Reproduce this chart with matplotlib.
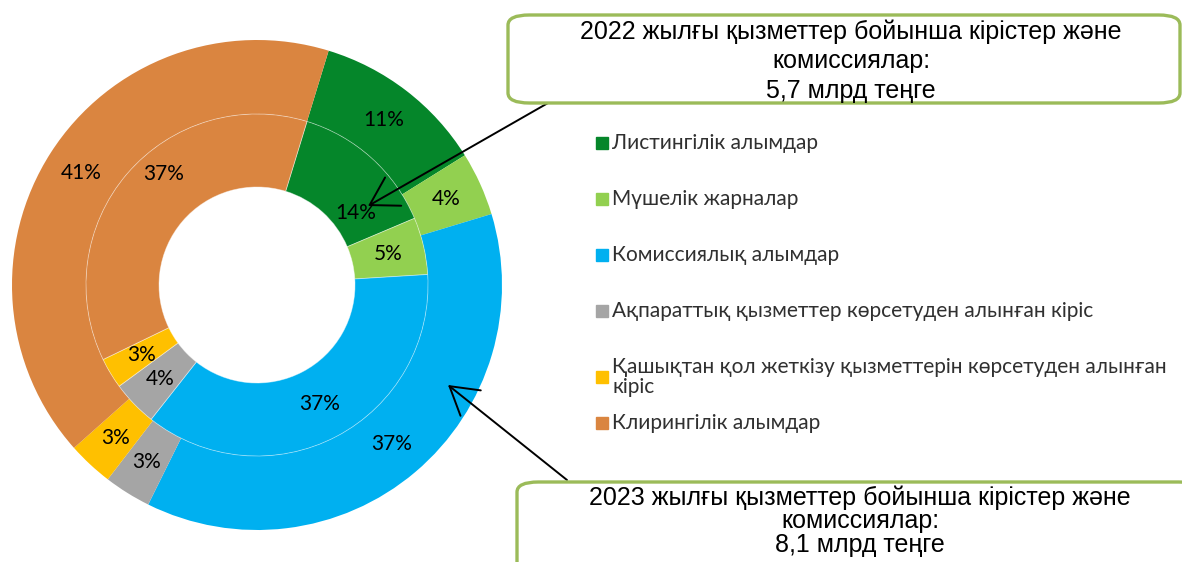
import numpy as np
import matplotlib
matplotlib.use("Agg")
import matplotlib.pyplot as plt
from matplotlib.patches import FancyBboxPatch, FancyArrowPatch, Rectangle

# categories (legend order = slice order)
categories = [
    "Листингілік алымдар",
    "Мүшелік жарналар",
    "Комиссиялық алымдар",
    "Ақпараттық қызметтер көрсетуден алынған кіріс",
    "Қашықтан қол жеткізу қызметтерін көрсетуден алынған\nкіріс",
    "Клирингілік алымдар",
]
# shares, %
share_2023 = [11.4, 4.2, 37.0, 3.1, 3.0, 41.3]   # outer ring
share_2022 = [13.9, 5.4, 36.6, 4.3, 2.9, 36.9]   # inner ring
colors = ["#05862a", "#92d050", "#00b0f0", "#a5a5a5", "#ffc000", "#da8540"]

title_2022 = "2022 жылғы қызметтер бойынша кірістер және\nкомиссиялар:\n5,7 млрд теңге"
title_2023 = "2023 жылғы қызметтер бойынша кірістер және\nкомиссиялар:\n8,1 млрд теңге"

W, H = 1182, 562
fig = plt.figure(figsize=(W / 100, H / 100), dpi=100)

def fx(px):
    return px / W

def fy(py):
    return 1 - py / H

pct_font = dict(family=["Lato", "DejaVu Sans"], size=15, color="black")
leg_font = dict(family=["Lato", "DejaVu Sans"], size=15, color="#303030")
box_font = dict(family=["Liberation Sans Narrow", "Liberation Sans", "DejaVu Sans"], size=18, color="black")

# donut
cx, cy, R = 257, 285, 245
ax = fig.add_axes([fx(cx - R), fy(cy + R), 2 * R / W, 2 * R / H])

r_mid, r_hole = 0.698, 0.40
start = 73

w_out, _, t_out = ax.pie(share_2023, radius=1, colors=colors, startangle=start,
                         counterclock=False, autopct="%.0f%%", pctdistance=0.85,
                         wedgeprops=dict(width=1 - r_mid, linewidth=0),
                         textprops=pct_font)
w_in, _, t_in = ax.pie(share_2022, radius=r_mid, colors=colors, startangle=start,
                       counterclock=False, autopct="%.0f%%", pctdistance=0.55 / r_mid,
                       wedgeprops=dict(width=r_mid - r_hole, linewidth=0.6,
                                       edgecolor=(1, 1, 1, 0.45)),
                       textprops=pct_font)
ax.set_xlim(-1, 1)
ax.set_ylim(-1, 1)
ax.axis("off")

# a couple of inner labels were moved by hand in the original
moved = {0: (0.50, 54), 5: (0.59, 320)}
for i, (r, a) in moved.items():
    t_in[i].set_position((r * np.sin(np.radians(a)), r * np.cos(np.radians(a))))

# legend, drawn by hand to keep the uneven row pitch
leg_rows = [143, 199, 255, 311, 377, 423]
for c, lab, y in zip(colors, categories, leg_rows):
    fig.patches.append(Rectangle((fx(596), fy(y + 6)), 12 / W, 12 / H,
                                 transform=fig.transFigure, color=c))
    fig.text(fx(612), fy(y), lab, va="center", ha="left", linespacing=1.0, **leg_font)

# callout boxes
for (x0, y0, x1, y1) in [(508, 15, 1180, 103), (517, 482, 1200, 600)]:
    fig.patches.append(FancyBboxPatch((fx(x0), fy(y1)), (x1 - x0) / W, (y1 - y0) / H,
                                      boxstyle="round,pad=0,rounding_size=0.018",
                                      transform=fig.transFigure, facecolor="white",
                                      edgecolor="#9bbb59", linewidth=2.4, clip_on=False))
fig.text(fx(851), fy(61), title_2022, ha="center", va="center", linespacing=1.3, **box_font)
fig.text(fx(860), fy(521), title_2023, ha="center", va="center", linespacing=0.98, **box_font)

# arrows
arrow = dict(arrowstyle="->,head_length=0.75,head_width=0.45", color="black", lw=1.4,
             mutation_scale=26, shrinkA=0, shrinkB=0)
fig.add_artist(FancyArrowPatch((fx(548), fy(103)), (fx(368), fy(206)),
                               transform=fig.transFigure, **arrow))
fig.add_artist(FancyArrowPatch((fx(567), fy(480)), (fx(448), fy(385)),
                               transform=fig.transFigure, **arrow))

fig.savefig("out.png", dpi=100)
